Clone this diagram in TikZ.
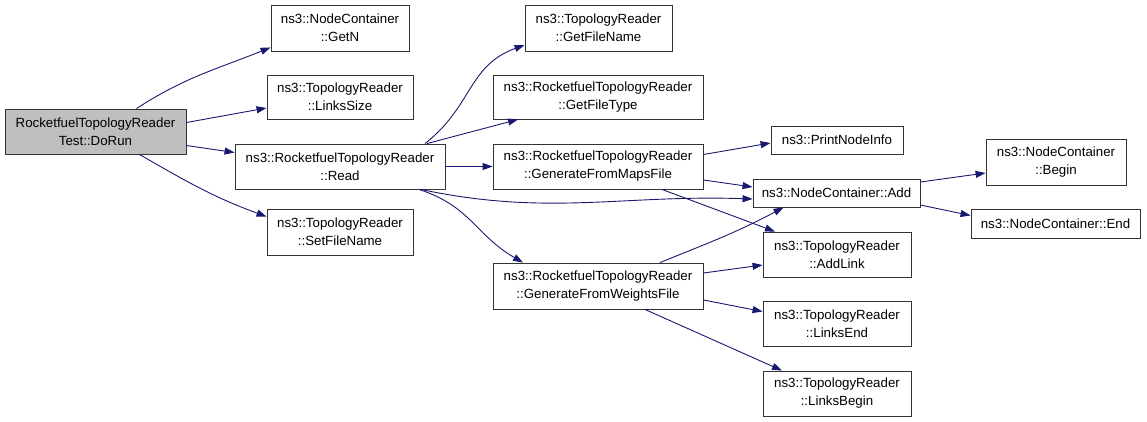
\documentclass[tikz,border=0pt]{standalone}
\usepackage{fontspec}
\setmainfont{Liberation Sans}
\usetikzlibrary{arrows.meta}
\definecolor{edgeblue}{HTML}{191970}
\definecolor{fngray}{HTML}{BFBFBF}
\begin{document}
\begin{tikzpicture}[x=1pt, y=-1pt,
		box/.style = {draw=black!80, line width=0.9pt, inner sep=0pt, align=center, font=\fontsize{13.3}{18}\selectfont},
		call/.style = {draw=edgeblue, line width=0.9pt, -{Triangle[length=10pt,width=7pt]}}]
		\useasboundingbox (0,0) rectangle (1147,421);
		\node[box, fill=fngray, minimum width=181pt, minimum height=45pt] (doRun) at (95.5,131.5) {RocketfuelTopologyReader\\Test::DoRun};
		\node[box, minimum width=138pt, minimum height=46pt] (getN) at (340,28) {ns3::NodeContainer\\::GetN};
		\node[box, minimum width=146pt, minimum height=44pt] (linksSize) at (340,97) {ns3::TopologyReader\\::LinksSize};
		\node[box, minimum width=210pt, minimum height=45pt] (read) at (340,166.5) {ns3::RocketfuelTopologyReader\\::Read};
		\node[box, minimum width=146pt, minimum height=46pt] (setFileName) at (340,232) {ns3::TopologyReader\\::SetFileName};
		\node[box, minimum width=147pt, minimum height=46pt] (getFileName) at (598.5,28) {ns3::TopologyReader\\::GetFileName};
		\node[box, minimum width=210pt, minimum height=44pt] (getFileType) at (598,97) {ns3::RocketfuelTopologyReader\\::GetFileType};
		\node[box, minimum width=210pt, minimum height=45pt] (mapsFile) at (598,166.5) {ns3::RocketfuelTopologyReader\\::GenerateFromMapsFile};
		\node[box, minimum width=210pt, minimum height=46pt] (weightsFile) at (598,286) {ns3::RocketfuelTopologyReader\\::GenerateFromWeightsFile};
		\node[box, minimum width=132pt, minimum height=28pt] (printInfo) at (837,140) {ns3::PrintNodeInfo};
		\node[box, minimum width=167pt, minimum height=28pt] (ncAdd) at (836.5,193) {ns3::NodeContainer::Add};
		\node[box, minimum width=148pt, minimum height=45pt] (addLink) at (837,254.5) {ns3::TopologyReader\\::AddLink};
		\node[box, minimum width=148pt, minimum height=45pt] (linksEnd) at (837,323.5) {ns3::TopologyReader\\::LinksEnd};
		\node[box, minimum width=148pt, minimum height=45pt] (linksBegin) at (837,393.5) {ns3::TopologyReader\\::LinksBegin};
		\node[box, minimum width=140pt, minimum height=46pt] (ncBegin) at (1056,162) {ns3::NodeContainer\\::Begin};
		\node[box, minimum width=169pt, minimum height=29pt] (ncEnd) at (1055.5,223.5) {ns3::NodeContainer::End};
		\draw[call] ([xshift=41pt]doRun.north) to[out=33, in=202] ([yshift=4pt]getN.south west);
		\draw[call] ([yshift=9pt]doRun.east) -- ([yshift=-11pt]linksSize.west);
		\draw[call] ([yshift=-14pt]doRun.east) -- ([yshift=14pt]read.west);
		\draw[call] ([xshift=44pt]doRun.south) to[out=-30, in=160] ([yshift=-8pt]setFileName.north west);
		\draw[call] ([xshift=85pt]read.north) to[out=38, in=200, looseness=1.1] ([yshift=-17pt]getFileName.west);
		\draw[call] ([xshift=87pt]read.north) -- ([xshift=-80pt]getFileType.south);
		\draw[call] (read.east) -- (mapsFile.west);
		\draw[call] ([xshift=81pt]read.south) to[out=-12, in=178] ([yshift=-6pt]ncAdd.west);
		\draw[call] ([xshift=79pt]read.south) to[out=-18, in=150, looseness=1.1] ([xshift=-75pt]weightsFile.north);
		\draw[call] ([yshift=12pt]mapsFile.east) -- ([yshift=-3pt]printInfo.west);
		\draw[call] ([yshift=-13.5pt]mapsFile.east) -- ([yshift=6pt]ncAdd.west);
		\draw[call] ([xshift=64pt]mapsFile.south) -- ([xshift=-62pt]addLink.north);
		\draw[call] ([xshift=62pt]weightsFile.north) to[out=22, in=208] ([xshift=-53pt]ncAdd.south);
		\draw[call] ([yshift=13pt]weightsFile.east) -- ([yshift=-10.5pt]addLink.west);
		\draw[call] ([yshift=-14pt]weightsFile.east) -- ([yshift=12pt]linksEnd.west);
		\draw[call] ([xshift=47pt]weightsFile.south) -- ([xshift=-55pt]linksBegin.north);
		\draw[call] ([yshift=11pt]ncAdd.east) -- ([yshift=-11pt]ncBegin.west);
		\draw[call] ([yshift=-12pt]ncAdd.east) -- ([yshift=8pt]ncEnd.west);
	\end{tikzpicture}
\end{document}
